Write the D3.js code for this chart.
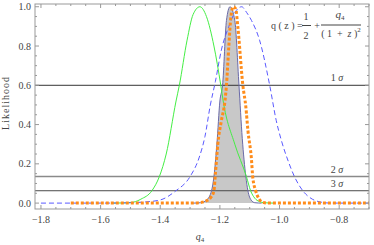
<!DOCTYPE html>
<html>
<head>
<meta charset="utf-8">
<script src="https://cdn.jsdelivr.net/npm/d3@7"></script>
<style>
  body { margin: 0; background: #fff; }
  text { font-family: "Liberation Serif", "DejaVu Serif", serif; fill: #444; }
</style>
</head>
<body>
<div id="chart"></div>
<script>
const xTicks = [-1.8, -1.6, -1.4, -1.2, -1.0, -0.8];
const yTicks = [0, 0.2, 0.4, 0.6, 0.8, 1.0];
const sigmaLevels = [0.6, 0.135, 0.063];
const sigmaLabels = ["1", "2", "3"];

// likelihood curves: [q4, L]
const greenCurve = [
  [-1.56, 0], [-1.52, 0.001], [-1.49, 0.005], [-1.465, 0.02], [-1.428, 0.063], [-1.403, 0.135],
  [-1.38, 0.25], [-1.347, 0.52], [-1.336, 0.6], [-1.31, 0.83], [-1.29, 0.96], [-1.267, 1.0],
  [-1.245, 0.95], [-1.22, 0.8], [-1.197, 0.6], [-1.189, 0.52], [-1.15, 0.3], [-1.111, 0.135],
  [-1.097, 0.063], [-1.083, 0.025], [-1.068, 0.008], [-1.05, 0.002], [-1.02, 0]
];
const blueCurve = [
  [-1.8, 0], [-1.6, 0], [-1.5, 0.002], [-1.45, 0.006], [-1.4, 0.016], [-1.35, 0.06],
  [-1.3, 0.135], [-1.27, 0.23], [-1.25, 0.34], [-1.232, 0.5], [-1.215, 0.62], [-1.195, 0.78],
  [-1.17, 0.9], [-1.15, 0.97], [-1.127, 1.0], [-1.11, 0.97], [-1.094, 0.93], [-1.067, 0.83],
  [-1.033, 0.6], [-1.011, 0.42], [-0.994, 0.32], [-0.97, 0.21], [-0.95, 0.135], [-0.922, 0.063],
  [-0.89, 0.02], [-0.861, 0.005], [-0.83, 0], [-0.7, 0]
];
const grayCurve = [
  [-1.29, 0], [-1.265, 0.002], [-1.245, 0.015], [-1.228, 0.063], [-1.22, 0.135], [-1.21, 0.3],
  [-1.2, 0.52], [-1.191, 0.6], [-1.178, 0.93], [-1.166, 1.0], [-1.15, 0.93], [-1.136, 0.6],
  [-1.125, 0.33], [-1.113, 0.135], [-1.106, 0.063], [-1.095, 0.015], [-1.083, 0.002], [-1.06, 0]
];
const orangeCurve = [
  [-1.7, 0], [-1.3, 0], [-1.265, 0.003], [-1.245, 0.012], [-1.23, 0.03], [-1.22, 0.063],
  [-1.215, 0.15], [-1.207, 0.3], [-1.195, 0.42], [-1.183, 0.52], [-1.178, 0.6], [-1.17, 0.8],
  [-1.163, 0.95], [-1.155, 1.0], [-1.147, 0.99], [-1.14, 0.9], [-1.123, 0.6], [-1.113, 0.49],
  [-1.106, 0.37], [-1.094, 0.22], [-1.09, 0.135], [-1.08, 0.063], [-1.068, 0.02], [-1.055, 0.004],
  [-1.04, 0], [-0.7, 0]
];

const width = 374;
const height = 245;
const frame = { left: 35, right: 369, top: 4, bottom: 209 };

const svg = d3.select("#chart")
  .append("svg")
  .attr("width", width)
  .attr("height", height);

const x = d3.scaleLinear().domain([-1.82, -0.7]).range([frame.left, frame.right]);
const y = d3.scaleLinear().domain([-0.03, 1.014]).range([frame.bottom, frame.top]);

const line = d3.line()
  .x(d => x(d[0]))
  .y(d => y(d[1]))
  .curve(d3.curveMonotoneX);

const area = d3.area()
  .x(d => x(d[0]))
  .y0(y(0))
  .y1(d => y(d[1]))
  .curve(d3.curveMonotoneX);

// filled peak
svg.append("path")
  .datum(grayCurve)
  .attr("d", area)
  .attr("fill", "#c8c8c8");

// sigma levels
const sigmaColors = ["#333", "#8a8a8a", "#4a4a4a"];
const sigmaWidths = [1, 1.5, 1];
svg.selectAll(".sigma")
  .data(sigmaLevels)
  .join("line")
  .attr("class", "sigma")
  .attr("x1", frame.left)
  .attr("x2", frame.right)
  .attr("y1", d => y(d))
  .attr("y2", d => y(d))
  .attr("stroke", (d, i) => sigmaColors[i])
  .attr("stroke-width", (d, i) => sigmaWidths[i]);

const sigmaText = svg.selectAll(".sigma-label")
  .data(sigmaLevels)
  .join("text")
  .attr("class", "sigma-label")
  .attr("x", 337)
  .attr("y", d => y(d) - 4)
  .attr("text-anchor", "middle")
  .attr("font-size", 10);
sigmaText.append("tspan").text((d, i) => sigmaLabels[i] + " ");
sigmaText.append("tspan").attr("font-style", "italic").text("σ");

svg.append("path")
  .datum(grayCurve)
  .attr("d", line)
  .attr("fill", "none")
  .attr("stroke", "#6a6aa8")
  .attr("stroke-width", 1);

svg.append("path")
  .datum(greenCurve)
  .attr("d", line)
  .attr("fill", "none")
  .attr("stroke", "#44ee44")
  .attr("stroke-width", 1);

svg.append("path")
  .datum(blueCurve)
  .attr("d", line)
  .attr("fill", "none")
  .attr("stroke", "#5a5aff")
  .attr("stroke-width", 1)
  .attr("stroke-dasharray", "5,3");

svg.append("path")
  .datum(orangeCurve)
  .attr("d", line)
  .attr("fill", "none")
  .attr("stroke", "#ff8c1a")
  .attr("stroke-width", 3)
  .attr("stroke-dasharray", "3,2");

// frame with inward ticks
const frameColor = "#999";
svg.append("rect")
  .attr("x", frame.left)
  .attr("y", frame.top)
  .attr("width", frame.right - frame.left)
  .attr("height", frame.bottom - frame.top)
  .attr("fill", "none")
  .attr("stroke", frameColor)
  .attr("stroke-width", 1);

const xMinor = d3.range(-36, -13).map(i => i * 0.05).filter(v => v >= -1.82 && v <= -0.7);
const yMinor = d3.range(0, 21).map(i => i * 0.05);
const isMajor = v => Math.abs(v / 0.2 - Math.round(v / 0.2)) < 1e-6;

const ticks = svg.append("g").attr("stroke", frameColor).attr("stroke-width", 1);
xMinor.forEach(v => {
  const len = isMajor(v) ? 4 : 2;
  ticks.append("line").attr("x1", x(v)).attr("x2", x(v)).attr("y1", frame.bottom).attr("y2", frame.bottom - len);
  ticks.append("line").attr("x1", x(v)).attr("x2", x(v)).attr("y1", frame.top).attr("y2", frame.top + len);
});
yMinor.forEach(v => {
  const len = isMajor(v) ? 4 : 2;
  ticks.append("line").attr("y1", y(v)).attr("y2", y(v)).attr("x1", frame.left).attr("x2", frame.left + len);
  ticks.append("line").attr("y1", y(v)).attr("y2", y(v)).attr("x1", frame.right).attr("x2", frame.right - len);
});

svg.selectAll(".xlab")
  .data(xTicks)
  .join("text")
  .attr("class", "xlab")
  .attr("x", d => x(d))
  .attr("y", 223)
  .attr("text-anchor", "middle")
  .attr("font-size", 10)
  .text(d3.format(".1f"));

svg.selectAll(".ylab")
  .data(yTicks)
  .join("text")
  .attr("class", "ylab")
  .attr("x", 31)
  .attr("y", d => y(d) + 3.5)
  .attr("text-anchor", "end")
  .attr("font-size", 10)
  .text(d3.format(".1f"));

// axis titles
svg.append("text")
  .attr("transform", "translate(9,103) rotate(-90)")
  .attr("text-anchor", "middle")
  .attr("font-size", 10)
  .attr("letter-spacing", 1)
  .text("Likelihood");

const xTitle = svg.append("text")
  .attr("x", 200)
  .attr("y", 240)
  .attr("text-anchor", "middle")
  .attr("font-size", 10);
xTitle.append("tspan").attr("font-style", "italic").text("q");
xTitle.append("tspan").attr("font-size", 7).attr("dy", 2).text("4");

// model formula
const f = svg.append("g").attr("font-size", 10);
f.append("text").attr("x", 271).attr("y", 29).text("q ( z ) =");
f.append("text").attr("x", 306).attr("y", 20).attr("text-anchor", "middle").text("1");
f.append("line").attr("x1", 302).attr("x2", 311).attr("y1", 25.5).attr("y2", 25.5).attr("stroke", "#444");
f.append("text").attr("x", 306).attr("y", 39).attr("text-anchor", "middle").text("2");
f.append("text").attr("x", 317).attr("y", 29).attr("text-anchor", "middle").text("+");
const num = f.append("text").attr("x", 340).attr("y", 18).attr("text-anchor", "middle").attr("font-size", 11);
num.append("tspan").attr("font-style", "italic").text("q");
num.append("tspan").attr("font-size", 7).attr("dy", 2).text("4");
f.append("line").attr("x1", 321).attr("x2", 361).attr("y1", 25).attr("y2", 25).attr("stroke", "#444");
const den = f.append("text").attr("x", 341).attr("y", 37).attr("text-anchor", "middle").attr("xml:space", "preserve");
den.append("tspan").text("( 1  +  ");
den.append("tspan").attr("font-style", "italic").text("z");
den.append("tspan").text(" )");
den.append("tspan").attr("font-size", 7).attr("dy", -5).text("2");
</script>
</body>
</html>
